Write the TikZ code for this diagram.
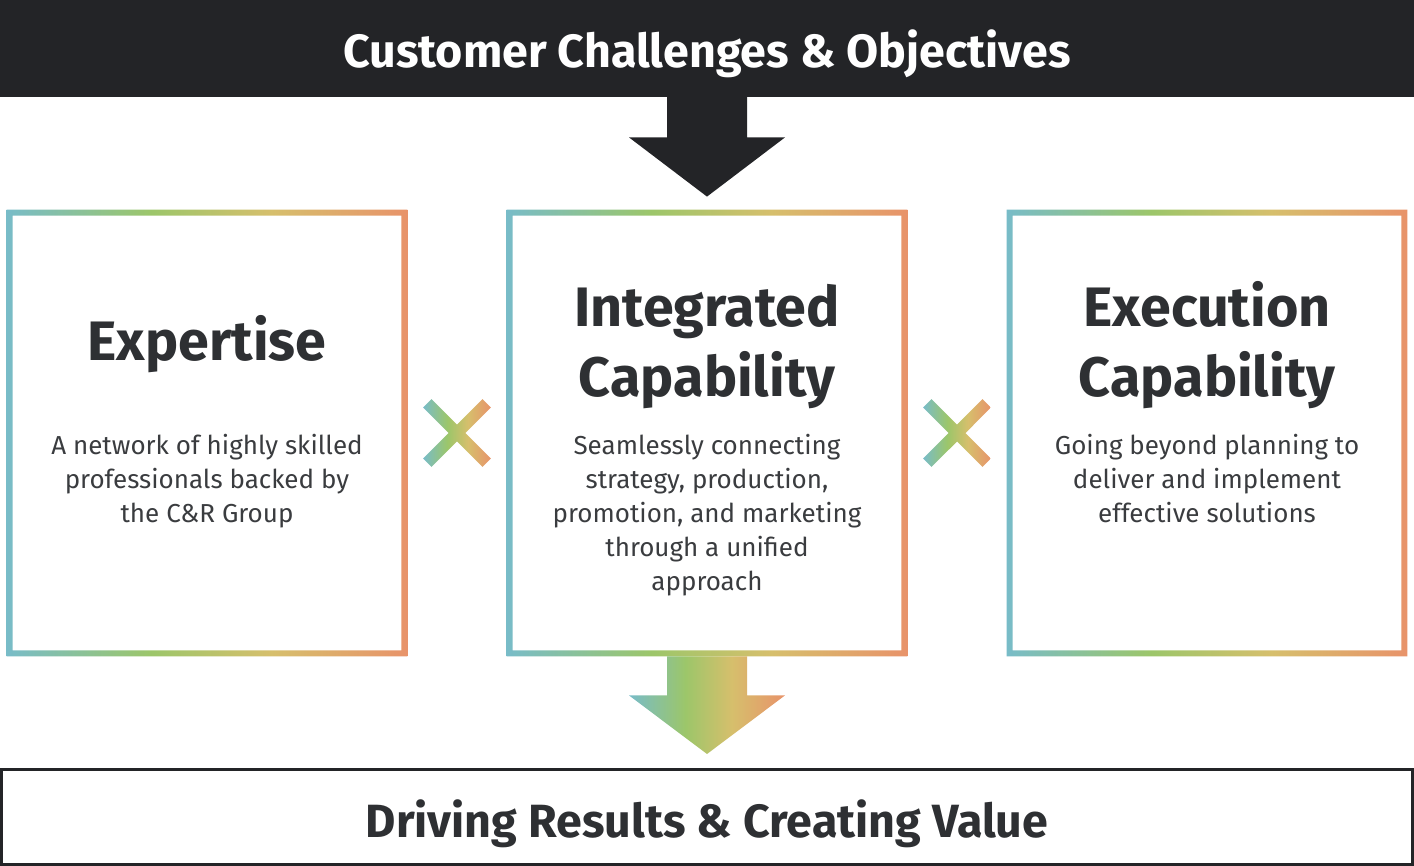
\documentclass[tikz,border=0pt]{standalone}
\usepackage{fontspec}
\setmainfont{Fira Sans}
\usetikzlibrary{calc}
\definecolor{barblack}{HTML}{232427}
\definecolor{headtext}{HTML}{2E3033}
\definecolor{bodytext}{HTML}{3A3C3F}
\definecolor{gteal}{HTML}{78BCC8}
\definecolor{ggreen}{HTML}{9CC66A}
\definecolor{gyellow}{HTML}{D6BF6C}
\definecolor{gorange}{HTML}{E8936A}
\pgfdeclarehorizontalshading{capgrad}{100bp}{color(0bp)=(gteal); color(25bp)=(gteal); color(43bp)=(ggreen); color(58bp)=(gyellow); color(75bp)=(gorange); color(100bp)=(gorange)}
\tikzset{
  pillar/.style={rectangle, minimum width=200pt, minimum height=223pt, inner sep=0pt},
  headline/.style={font=\bfseries\fontsize{27.8}{35}\selectfont, text=headtext, align=center, anchor=base},
  blurb/.style={font=\fontsize{13}{17}\selectfont, text=bodytext, align=center, anchor=base},
  banner/.style={font=\bfseries\fontsize{23.3}{27}\selectfont, anchor=base},
}
% gradient frame round a pillar node
\newcommand\gradframe[1]{%
  \shade[shading=capgrad, even odd rule] (#1.north west) rectangle (#1.south east)
    ($(#1.north west)+(6,6)$) rectangle ($(#1.south east)+(-6,-6)$);}
% gradient cross between two pillars
\newcommand\crossmark[1]{%
  \begin{scope}[shift={(#1)}]
    \clip (36.87:42.43) -- (53.13:42.43) -- (90:8.49) -- (126.87:42.43) -- (143.13:42.43) -- (180:8.49)
      -- (216.87:42.43) -- (233.13:42.43) -- (270:8.49) -- (306.87:42.43) -- (323.13:42.43) -- (0:8.49) -- cycle;
    \shade[shading=capgrad] (-34,-34) rectangle (34,34);
  \end{scope}}
\begin{document}
\begin{tikzpicture}[x=0.5pt,y=-0.5pt]
\useasboundingbox (0,0) rectangle (1414,866);
% top banner
\node[rectangle, inner sep=0pt, minimum width=707pt, minimum height=48.5pt, fill=barblack] (bar) at (707,48.5) {};
\node[banner, text=white] (title) at (707,68) {Customer Challenges \& Objectives};
% three pillars (base = last line)
\node[pillar] (exp) at (207,433) {};
\node[pillar] (int) at (707,433) {};
\node[pillar] (exe) at (1207,433) {};
\gradframe{exp} \gradframe{int} \gradframe{exe}
\node[headline] (exphead) at (207,360) {Expertise};
\node[headline] (inthead) at (707,396) {Integrated\\Capability};
\node[headline] (exehead) at (1207,396) {Execution\\Capability};
\node[blurb] (expbody) at (207,522) {A network of highly skilled\\professionals backed by\\the C\&R Group};
\node[blurb] (intbody) at (707,590) {Seamlessly connecting\\strategy, production,\\promotion, and marketing\\through a unified\\approach};
\node[blurb] (exebody) at (1207,522) {Going beyond planning to\\deliver and implement\\effective solutions};
\coordinate (x1) at ($(exp.east)!0.5!(int.west)$);
\coordinate (x2) at ($(int.east)!0.5!(exe.west)$);
\crossmark{x1} \crossmark{x2}
% bottom result box
\node[rectangle, inner sep=0pt, minimum width=705.5pt, minimum height=47.5pt, draw=barblack, line width=1.5pt] (out) at (707,817) {};
\node[banner, text=headtext] (result) at (707,837) {Driving Results \& Creating Value};
% block arrows
\fill[barblack] ($(bar.south)+(-40,-1)$) -- ($(bar.south)+(-40,40)$) -- ($(bar.south)+(-78,40)$) -- ($(int.north)+(0,-13)$)
  -- ($(bar.south)+(78,40)$) -- ($(bar.south)+(40,40)$) -- ($(bar.south)+(40,-1)$) -- cycle;
\shade[shading=capgrad] ($(int.south)+(-40,0)$) -- ($(int.south)+(-40,39)$) -- ($(int.south)+(-78,39)$) -- ($(out.north)+(0,-14)$)
  -- ($(int.south)+(78,39)$) -- ($(int.south)+(40,39)$) -- ($(int.south)+(40,0)$) -- cycle;
\end{tikzpicture}
\end{document}
